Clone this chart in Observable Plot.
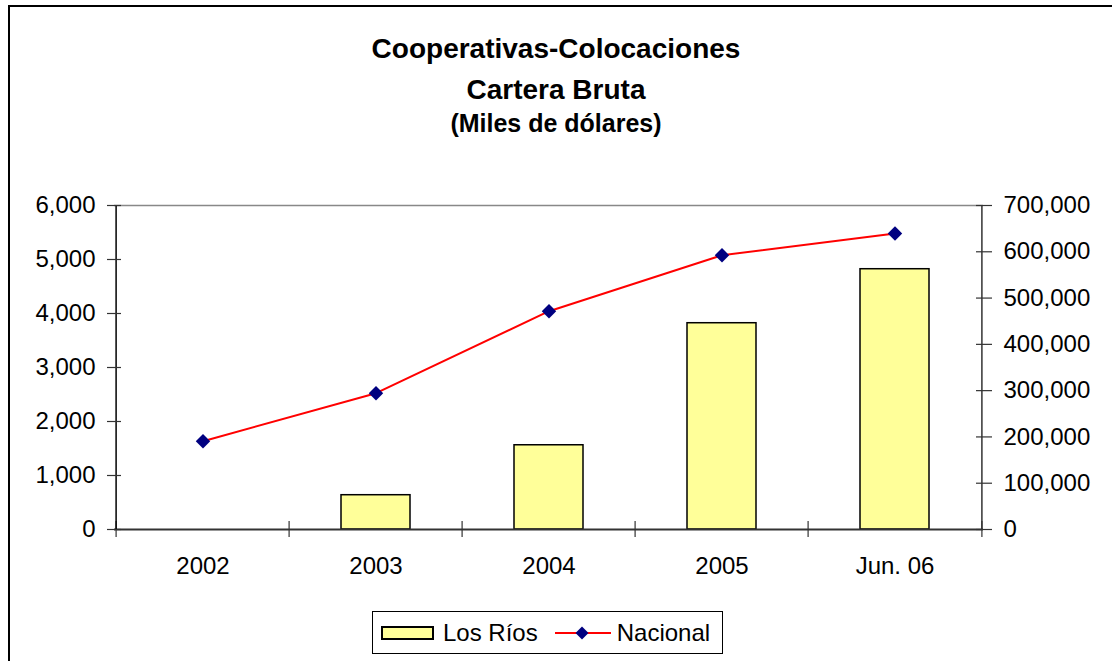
<!DOCTYPE html>
<html>
<head>
<meta charset="utf-8">
<script src="https://cdn.jsdelivr.net/npm/d3@7"></script>
<script src="https://cdn.jsdelivr.net/npm/@observablehq/plot@0.6"></script>
<style>
  html, body { margin: 0; padding: 0; background: #fff; overflow: hidden; }
  body { width: 1112px; height: 661px; position: relative; font-family: "Liberation Sans", Arial, sans-serif; }
  #frame { position: absolute; left: 8px; top: 5px; width: 1200px; height: 800px; border-left: 2px solid #000; border-top: 2px solid #000; z-index: 5; pointer-events: none; }
  .t { position: absolute; left: 0; width: 1112px; text-align: center; font-weight: bold; color: #000; white-space: nowrap; }
  #chart { position: absolute; left: 0; top: 0; }
  #legend { position: absolute; left: 372px; top: 611px; width: 349px; height: 41px; border: 1.5px solid #000; background: #fff;
            display: flex; align-items: center; font-size: 24px; color: #000; }
  #legend .sw { width: 49px; height: 10px; background: #FFFF99; border: 2px solid #000; margin-left: 8px; }
</style>
</head>
<body>
<div id="chart"></div>
<div class="t" style="top:35px;font-size:28px;line-height:28px;">Cooperativas-Colocaciones</div>
<div class="t" style="top:76px;font-size:28px;line-height:28px;">Cartera Bruta</div>
<div class="t" style="top:111px;font-size:25px;line-height:25px;">(Miles de dólares)</div>
<div id="legend">
  <div class="sw"></div>
  <span style="margin-left:9px;">Los Ríos</span>
  <svg width="56" height="16" style="margin-left:17px;">
    <line x1="0" y1="8" x2="56" y2="8" stroke="#FF0000" stroke-width="2"></line>
    <path d="M27,1.5 L33.5,8 L27,14.5 L20.5,8 Z" fill="#000080"></path>
  </svg>
  <span style="margin-left:6px;">Nacional</span>
</div>
<div id="frame"></div>
<script>
const categories = ["2002", "2003", "2004", "2005", "Jun. 06"];
const losRios = [0, 635, 1560, 3820, 4820];
const nacional = [190800, 294500, 471600, 592600, 639500];
const leftTicks = [0, 1000, 2000, 3000, 4000, 5000, 6000];
const rightTicks = [0, 100000, 200000, 300000, 400000, 500000, 600000, 700000];

const leftMax = 6000, rightMax = 700000;
const k = leftMax / rightMax;
const data = categories.map((c, i) => ({cat: c, rios: losRios[i], nac: nacional[i]}));

const W = 1112, H = 661;
const mL = 114, mR = 129, mT = 205, mB = 132;
const step = (W - mL - mR) / categories.length;
const fmt = d3.format(",");

const chart = Plot.plot({
  width: W, height: H,
  marginLeft: mL, marginRight: mR, marginTop: mT, marginBottom: mB,
  style: {fontFamily: '"Liberation Sans", Arial, sans-serif', fontSize: "24px", color: "#000", background: "transparent"},
  x: {type: "band", domain: categories, padding: 0, label: null},
  y: {domain: [0, leftMax], label: null},
  marks: [
    Plot.ruleY([leftMax], {stroke: "#888", strokeWidth: 1.5}),
    Plot.barY(data.filter(d => d.rios > 0), {x: "cat", y: "rios", fill: "#FFFF99", stroke: "#000", strokeWidth: 1.5, insetLeft: 52, insetRight: 52}),
    Plot.ruleY([0], {stroke: "#333", strokeWidth: 2}),
    Plot.ruleX(categories, {x: d => d, dx: -step / 2, y1: 0, y2: 0, insetTop: -8, insetBottom: -8, stroke: "#333", strokeWidth: 1.2}),
    Plot.ruleX([categories[categories.length - 1]], {x: d => d, dx: step / 2, y1: 0, y2: 0, insetTop: -8, insetBottom: -8, stroke: "#333", strokeWidth: 1.2}),
    Plot.ruleX([categories[0]], {x: d => d, dx: -step / 2, stroke: "#000", strokeWidth: 1.5}),
    Plot.ruleX([categories[categories.length - 1]], {x: d => d, dx: step / 2, stroke: "#333", strokeWidth: 1.5}),
    Plot.axisY({anchor: "left", ticks: leftTicks, tickSize: 14, dx: 7, tickPadding: 12, tickFormat: fmt, label: null, stroke: "#333", strokeWidth: 1.2, fontSize: 24, fill: "#000"}),
    Plot.axisY(rightTicks.map(v => v * k), {anchor: "right", tickSize: 16, dx: -8, tickPadding: 12, tickFormat: d => fmt(Math.round(d / k)), label: null, stroke: "#333", strokeWidth: 1.2, fontSize: 24, fill: "#000"}),
    Plot.axisX({tickSize: 0, tickPadding: 27, fontSize: 24, label: null, fill: "#000"}),
    Plot.line(data, {x: "cat", y: d => d.nac * k, stroke: "#FF0000", strokeWidth: 2}),
    Plot.dot(data, {x: "cat", y: d => d.nac * k, symbol: "diamond2", r: 6.5, fill: "#000080", stroke: "none"})
  ]
});
document.getElementById("chart").appendChild(chart);
</script>
</body>
</html>
